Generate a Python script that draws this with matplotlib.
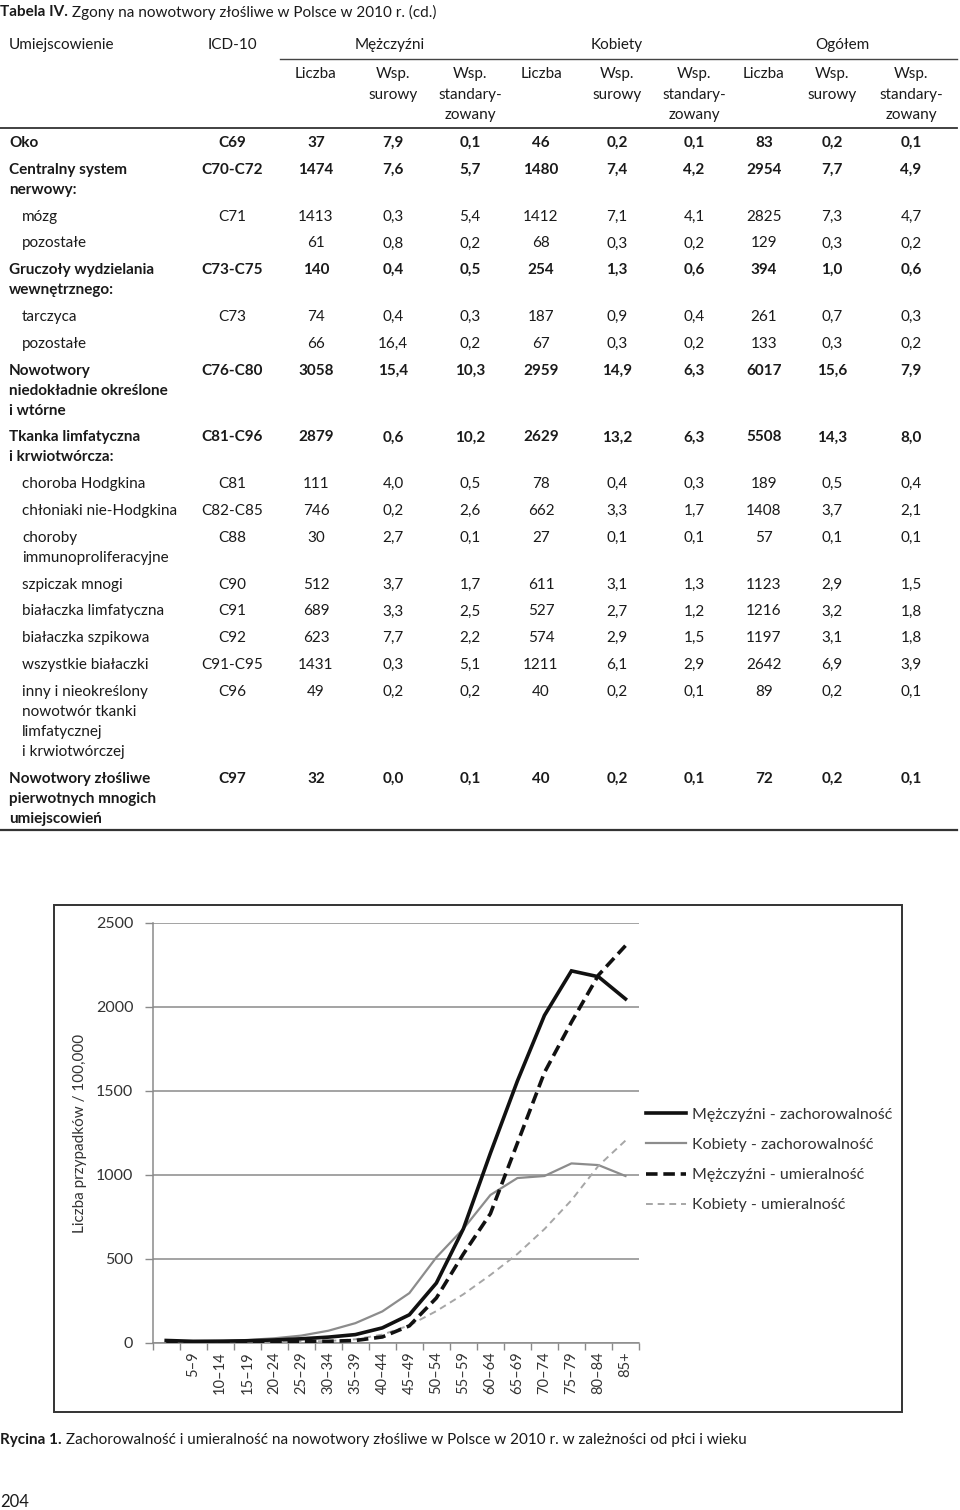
# -*- coding: utf-8 -*-
import numpy as np
import matplotlib
matplotlib.use("Agg")
import matplotlib.pyplot as plt
from matplotlib.lines import Line2D
from matplotlib.patches import Rectangle

plt.rcParams["font.family"] = ["Lato", "DejaVu Sans"]

# -----------------------------
# TABLE DATA
# -----------------------------
title_bold = "Tabela IV."
title_rest = " Zgony na nowotwory złośliwe w Polsce w 2010 r. (cd.)"

group_headers = ["Mężczyźni", "Kobiety", "Ogółem"]
sub_headers = [["Liczba"], ["Wsp.", "surowy"], ["Wsp.", "standary-", "zowany"]]

row_labels = [
    ["Oko"],
    ["Centralny system", "nerwowy:"],
    ["mózg"],
    ["pozostałe"],
    ["Gruczoły wydzielania", "wewnętrznego:"],
    ["tarczyca"],
    ["pozostałe"],
    ["Nowotwory", "niedokładnie określone", "i wtórne"],
    ["Tkanka limfatyczna", "i krwiotwórcza:"],
    ["choroba Hodgkina"],
    ["chłoniaki nie-Hodgkina"],
    ["choroby", "immunoproliferacyjne"],
    ["szpiczak mnogi"],
    ["białaczka limfatyczna"],
    ["białaczka szpikowa"],
    ["wszystkie białaczki"],
    ["inny i nieokreślony", "nowotwór tkanki", "limfatycznej", "i krwiotwórczej"],
    ["Nowotwory złośliwe", "pierwotnych mnogich", "umiejscowień"],
]
row_bold = [True, True, False, False, True, False, False, True, True,
            False, False, False, False, False, False, False, False, True]
icd_codes = ["C69", "C70-C72", "C71", "", "C73-C75", "C73", "", "C76-C80", "C81-C96",
             "C81", "C82-C85", "C88", "C90", "C91", "C92", "C91-C95", "C96", "C97"]
row_values = [
    ["37", "7,9", "0,1", "46", "0,2", "0,1", "83", "0,2", "0,1"],
    ["1474", "7,6", "5,7", "1480", "7,4", "4,2", "2954", "7,7", "4,9"],
    ["1413", "0,3", "5,4", "1412", "7,1", "4,1", "2825", "7,3", "4,7"],
    ["61", "0,8", "0,2", "68", "0,3", "0,2", "129", "0,3", "0,2"],
    ["140", "0,4", "0,5", "254", "1,3", "0,6", "394", "1,0", "0,6"],
    ["74", "0,4", "0,3", "187", "0,9", "0,4", "261", "0,7", "0,3"],
    ["66", "16,4", "0,2", "67", "0,3", "0,2", "133", "0,3", "0,2"],
    ["3058", "15,4", "10,3", "2959", "14,9", "6,3", "6017", "15,6", "7,9"],
    ["2879", "0,6", "10,2", "2629", "13,2", "6,3", "5508", "14,3", "8,0"],
    ["111", "4,0", "0,5", "78", "0,4", "0,3", "189", "0,5", "0,4"],
    ["746", "0,2", "2,6", "662", "3,3", "1,7", "1408", "3,7", "2,1"],
    ["30", "2,7", "0,1", "27", "0,1", "0,1", "57", "0,1", "0,1"],
    ["512", "3,7", "1,7", "611", "3,1", "1,3", "1123", "2,9", "1,5"],
    ["689", "3,3", "2,5", "527", "2,7", "1,2", "1216", "3,2", "1,8"],
    ["623", "7,7", "2,2", "574", "2,9", "1,5", "1197", "3,1", "1,8"],
    ["1431", "0,3", "5,1", "1211", "6,1", "2,9", "2642", "6,9", "3,9"],
    ["49", "0,2", "0,2", "40", "0,2", "0,1", "89", "0,2", "0,1"],
    ["32", "0,0", "0,1", "40", "0,2", "0,1", "72", "0,2", "0,1"],
]

# -----------------------------
# CHART DATA (per 100 000)
# -----------------------------
age_groups = ["0–4", "5–9", "10–14", "15–19", "20–24", "25–29", "30–34", "35–39",
              "40–44", "45–49", "50–54", "55–59", "60–64", "65–69", "70–74",
              "75–79", "80–84", "85+"]
age_tick_labels = [""] + age_groups[1:]   # first label is not printed in the original

male_incidence = [15, 10, 11, 13, 18, 25, 35, 50, 90, 168, 357, 680,
                  1130, 1560, 1950, 2215, 2180, 2048]
female_incidence = [12, 8, 10, 18, 28, 44, 73, 118, 188, 297, 510, 680,
                    881, 982, 994, 1069, 1059, 994]
male_mortality = [8, 5, 6, 7, 8, 9, 10, 15, 36, 102, 268, 530,
                  770, 1190, 1610, 1910, 2190, 2365]
female_mortality = [6, 4, 5, 6, 7, 8, 12, 22, 50, 105, 190, 290,
                    405, 530, 678, 850, 1055, 1205]

series_labels = ["Mężczyźni - zachorowalność", "Kobiety - zachorowalność",
                 "Mężczyźni - umieralność", "Kobiety - umieralność"]

caption_bold = "Rycina 1."
caption_rest = " Zachorowalność i umieralność na nowotwory złośliwe w Polsce w 2010 r. w zależności od płci i wieku"
page_number = "204"

# -----------------------------
# PAGE (pixel coordinates overlay)
# -----------------------------
W, H = 960, 1510
fig = plt.figure(figsize=(W / 100, H / 100), dpi=100)
page = fig.add_axes([0, 0, 1, 1])
page.set_xlim(0, W)
page.set_ylim(H, 0)
page.axis("off")

renderer = fig.canvas.get_renderer()
TXT = "#1a1a1a"
FS = 11


def run_text(x, y, parts, size=FS):
    # bold + regular pieces on one line
    for txt, weight in parts:
        t = page.text(x, y, txt, fontsize=size, fontweight=weight,
                      va="center", ha="left", color=TXT)
        bb = t.get_window_extent(renderer=renderer)
        x = page.transData.inverted().transform((bb.x1, bb.y0))[0]


run_text(0, 12, [(title_bold, "bold"), (title_rest, "normal")])

# header
icd_x = 232
col_x = [316, 393, 470, 541, 617, 694, 764, 832, 911]
group_x = [390, 617, 842]

page.text(9, 45, "Umiejscowienie", fontsize=FS, va="center", ha="left", color=TXT)
page.text(icd_x, 45, "ICD-10", fontsize=FS, va="center", ha="center", color=TXT)
for gx, g in zip(group_x, group_headers):
    page.text(gx, 45, g, fontsize=FS, va="center", ha="center", color=TXT)
page.plot([280, 957], [59, 59], color="#444444", lw=1.0)

for i, cx in enumerate(col_x):
    for k, line in enumerate(sub_headers[i % 3]):
        page.text(cx, 74 + 20.5 * k, line, fontsize=FS, va="center", ha="center", color=TXT)
page.plot([0, 957], [128, 128], color="#333333", lw=1.3)

# body
y = 143
for lines, icd, vals, bold in zip(row_labels, icd_codes, row_values, row_bold):
    weight = "bold" if bold else "normal"
    x0 = 9 if bold else 22
    for k, line in enumerate(lines):
        page.text(x0, y + 20 * k, line, fontsize=FS, fontweight=weight,
                  va="center", ha="left", color=TXT)
    if icd:
        page.text(icd_x, y, icd, fontsize=FS, fontweight=weight,
                  va="center", ha="center", color=TXT)
    for cx, v in zip(col_x, vals):
        page.text(cx, y, v, fontsize=FS, fontweight=weight,
                  va="center", ha="center", color=TXT)
    y += 20 * (len(lines) - 1) + 26.8
page.plot([0, 957], [830, 830], color="#333333", lw=1.6)

# chart frame
page.add_patch(Rectangle((54, 905), 848, 507, fill=False, lw=1.4, ec="#333333"))

# caption and page number
run_text(0, 1440, [(caption_bold, "bold"), (caption_rest, "normal")])
page.text(0, 1502, page_number, fontsize=12, va="center", ha="left", color=TXT)

# -----------------------------
# CHART
# -----------------------------
left, right, top, bottom = 152.7, 639.0, 923.0, 1343.0
ax = fig.add_axes([left / W, 1 - bottom / H, (right - left) / W, (bottom - top) / H])
ax.patch.set_alpha(0)

x = np.arange(len(age_groups))
ax.plot(x, male_incidence, color="#111111", lw=2.6, zorder=4, solid_joinstyle="miter")
ax.plot(x, female_incidence, color="#8c8c8c", lw=1.6, zorder=3)
ax.plot(x, male_mortality, color="#111111", lw=2.6, ls=(0, (3.2, 1.6)), zorder=4)
ax.plot(x, female_mortality, color="#a6a6a6", lw=1.4, ls=(0, (3.5, 2.5)), zorder=3)

ax.set_xlim(-0.5, len(age_groups) - 0.5)
ax.set_ylim(0, 2500)
ax.set_yticks(np.arange(0, 2501, 500))
ax.yaxis.grid(True, color="#8a8a8a", lw=1.1)
ax.set_axisbelow(True)

ax.set_xticks(np.arange(-0.5, len(age_groups), 1))
ax.set_xticklabels([])
ax.set_xticks(x, minor=True)
ax.set_xticklabels(age_tick_labels, minor=True, rotation=90, fontsize=10.5, color="#333333")
ax.tick_params(axis="x", which="major", length=5, color="#8a8a8a", width=1.0)
ax.tick_params(axis="x", which="minor", length=0, pad=6)
ax.tick_params(axis="y", length=6, color="#8a8a8a", width=1.0, labelsize=11.5,
               labelcolor="#333333", pad=8)

for s in ["top", "right"]:
    ax.spines[s].set_visible(False)
for s in ["left", "bottom"]:
    ax.spines[s].set_color("#8a8a8a")
    ax.spines[s].set_linewidth(1.1)

ax.set_ylabel("Liczba przypadków / 100,000", fontsize=11, color="#333333")
ax.yaxis.set_label_coords((87 - left) / (right - left), 0.5)

handles = [
    Line2D([], [], color="#111111", lw=2.6),
    Line2D([], [], color="#8c8c8c", lw=1.6),
    Line2D([], [], color="#111111", lw=2.6, ls=(0, (3.2, 1.6))),
    Line2D([], [], color="#a6a6a6", lw=1.4, ls=(0, (3.5, 2.5))),
]
leg = ax.legend(handles, series_labels, loc="center left",
                bbox_to_anchor=(646 / W, 1 - 1160 / H), bbox_transform=fig.transFigure,
                frameon=False, fontsize=11.5, handlelength=2.5, handletextpad=0.35,
                labelspacing=1.0, borderpad=0, borderaxespad=0)
for t in leg.get_texts():
    t.set_color("#333333")

fig.savefig("out.png", dpi=100)
